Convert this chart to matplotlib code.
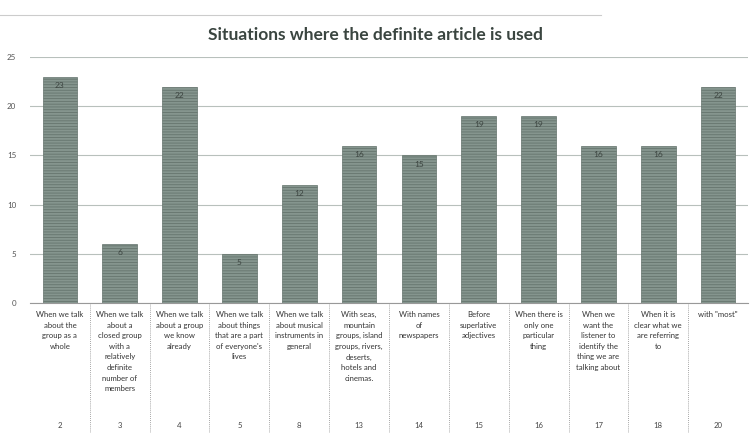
import numpy as np
import matplotlib
matplotlib.use("Agg")
import matplotlib.pyplot as plt
from matplotlib.transforms import blended_transform_factory

plt.rcParams['font.family'] = ['Lato', 'DejaVu Sans']
plt.rcParams['hatch.color'] = '#5a6963'
plt.rcParams['hatch.linewidth'] = 0.6

# data
situations = [
    "When we talk\nabout the\ngroup as a\nwhole",
    "When we talk\nabout a\nclosed group\nwith a\nrelatively\ndefinite\nnumber of\nmembers",
    "When we talk\nabout a group\nwe know\nalready",
    "When we talk\nabout things\nthat are a part\nof everyone's\nlives",
    "When we talk\nabout musical\ninstruments in\ngeneral",
    "With seas,\nmountain\ngroups, island\ngroups, rivers,\ndeserts,\nhotels and\ncinemas.",
    "With names\nof\nnewspapers",
    "Before\nsuperlative\nadjectives",
    "When there is\nonly one\nparticular\nthing",
    "When we\nwant the\nlistener to\nidentify the\nthing we are\ntalking about",
    "When it is\nclear what we\nare referring\nto",
    "with \"most\"",
]
item_numbers = ["2", "3", "4", "5", "8", "13", "14", "15", "16", "17", "18", "20"]
counts = [23, 6, 22, 5, 12, 16, 15, 19, 19, 16, 16, 22]

fig = plt.figure(figsize=(7.51, 4.33), dpi=100)
ax = fig.add_axes([30 / 751, 1 - 303 / 433, 718 / 751, (303 - 57) / 433])

x = np.arange(len(counts))
ax.bar(x, counts, width=0.58, color='#85958e', edgecolor='#65746d',
       linewidth=0.5, hatch='------', zorder=3)
for xi, v in zip(x, counts):
    ax.text(xi, v - 0.9, str(v), ha='center', va='center', fontsize=6,
            color='#3c4440', zorder=4)

ax.set_xlim(-0.5, len(counts) - 0.5)
ax.set_ylim(0, 25)
ax.set_yticks(range(0, 26, 5))
ax.tick_params(axis='y', length=0, labelsize=5.8, colors='#555555', pad=10)
ax.set_xticks([])
ax.grid(axis='y', color='#b8c0bc', linewidth=0.8, zorder=0)
for s in ['top', 'right', 'left']:
    ax.spines[s].set_visible(False)
ax.spines['bottom'].set_color('#999999')
ax.spines['bottom'].set_linewidth(0.8)

# table under the axis
tr = blended_transform_factory(ax.transData, ax.transAxes)
for b in np.arange(0.5, len(counts) - 1, 1.0):
    ax.plot([b, b], [0, -130 / 246], transform=tr, clip_on=False,
            color='#888888', linewidth=0.6, linestyle=(0, (1, 1.5)))
for xi, lab, num in zip(x, situations, item_numbers):
    ax.text(xi, -8 / 246, lab, transform=tr, ha='center', va='top',
            fontsize=5.6, color='#333333', linespacing=1.6)
    ax.text(xi, -122 / 246, num, transform=tr, ha='center', va='center',
            fontsize=5.6, color='#444444')

fig.text(0.5, 1 - 35 / 433, "Situations where the definite article is used",
         ha='center', va='center', fontsize=12.5, fontweight='bold',
         color='#3a4540')
fig.add_artist(plt.Line2D([0, 0.8], [1 - 15 / 433] * 2, color='#cccccc',
                          linewidth=0.8))

fig.savefig("out.png", dpi=100)
